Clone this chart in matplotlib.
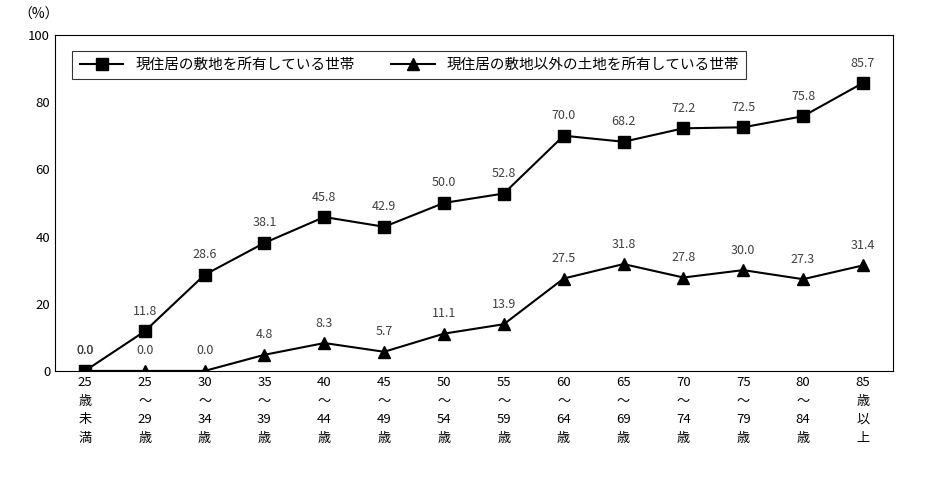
import matplotlib
matplotlib.use("Agg")
import matplotlib.pyplot as plt

plt.rcParams["font.family"] = ["Noto Sans CJK JP", "DejaVu Sans"]

categories = ["25\n歳\n未\n満", "25\n～\n29\n歳", "30\n～\n34\n歳", "35\n～\n39\n歳", "40\n～\n44\n歳",
              "45\n～\n49\n歳", "50\n～\n54\n歳", "55\n～\n59\n歳", "60\n～\n64\n歳", "65\n～\n69\n歳",
              "70\n～\n74\n歳", "75\n～\n79\n歳", "80\n～\n84\n歳", "85\n歳\n以\n上"]
own_site = [0.0, 11.8, 28.6, 38.1, 45.8, 42.9, 50.0, 52.8, 70.0, 68.2, 72.2, 72.5, 75.8, 85.7]
other_land = [0.0, 0.0, 0.0, 4.8, 8.3, 5.7, 11.1, 13.9, 27.5, 31.8, 27.8, 30.0, 27.3, 31.4]
series_names = ["現住居の敷地を所有している世帯", "現住居の敷地以外の土地を所有している世帯"]

fig = plt.figure(figsize=(9.32, 4.78), dpi=100)
ax = fig.add_axes([0.059, 0.224, 0.899, 0.703])
x = list(range(len(categories)))
ax.plot(x, own_site, color="black", lw=1.5, marker="s", ms=8, label=series_names[0])
ax.plot(x, other_land, color="black", lw=1.5, marker="^", ms=8, label=series_names[1])
for i, (a, b) in enumerate(zip(own_site, other_land)):
    ax.text(i, a + 4, f"{a:.1f}", ha="center", va="bottom", fontsize=9, color="#404040")
    ax.text(i, b + 4, f"{b:.1f}", ha="center", va="bottom", fontsize=9, color="#404040")

ax.set_xlim(-0.5, len(categories) - 0.5)
ax.set_ylim(0, 100)
ax.set_yticks(range(0, 101, 20))
ax.set_xticks(x)
ax.set_xticklabels(categories, fontsize=9.5, linespacing=1.55)
ax.tick_params(axis="y", labelsize=9.5, length=0)
ax.tick_params(axis="x", length=0, pad=4)
for s in ax.spines.values():
    s.set_linewidth(0.8)
fig.text(0.02, 0.96, "（%）", fontsize=10)
leg = ax.legend(loc="upper left", bbox_to_anchor=(0.012, 0.975), ncol=2, fontsize=10.5,
                frameon=True, fancybox=False, edgecolor="black", handlelength=3,
                columnspacing=2.5, borderpad=0.5)
leg.get_frame().set_linewidth(0.8)
fig.savefig("out.png", dpi=100)
